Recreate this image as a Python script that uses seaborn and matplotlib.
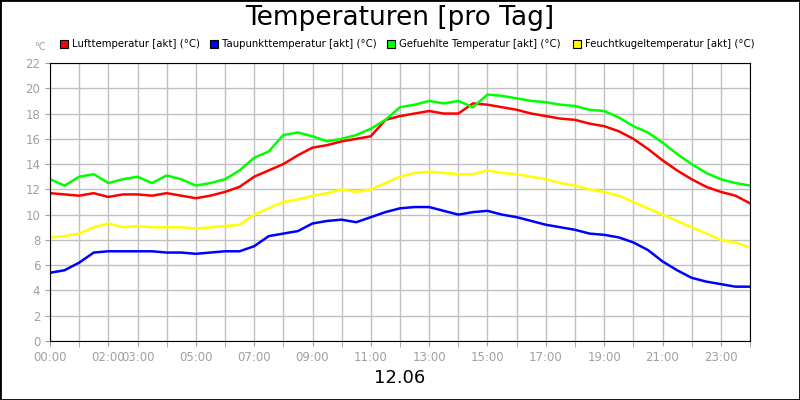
import numpy as np
import pandas as pd
import matplotlib
matplotlib.use("Agg")
import matplotlib.pyplot as plt
import seaborn as sns

hours = [i * 0.5 for i in range(49)]
luft = [11.7, 11.6, 11.5, 11.7, 11.4, 11.6, 11.6, 11.5, 11.7, 11.5, 11.3, 11.5, 11.8, 12.2, 13.0, 13.5, 14.0, 14.7, 15.3, 15.5, 15.8, 16.0, 16.2, 17.5, 17.8, 18.0, 18.2, 18.0, 18.0, 18.8, 18.7, 18.5, 18.3, 18.0, 17.8, 17.6, 17.5, 17.2, 17.0, 16.6, 16.0, 15.2, 14.3, 13.5, 12.8, 12.2, 11.8, 11.5, 10.9]
taupunkt = [5.4, 5.6, 6.2, 7.0, 7.1, 7.1, 7.1, 7.1, 7.0, 7.0, 6.9, 7.0, 7.1, 7.1, 7.5, 8.3, 8.5, 8.7, 9.3, 9.5, 9.6, 9.4, 9.8, 10.2, 10.5, 10.6, 10.6, 10.3, 10.0, 10.2, 10.3, 10.0, 9.8, 9.5, 9.2, 9.0, 8.8, 8.5, 8.4, 8.2, 7.8, 7.2, 6.3, 5.6, 5.0, 4.7, 4.5, 4.3, 4.3]
gefuehlt = [12.8, 12.3, 13.0, 13.2, 12.5, 12.8, 13.0, 12.5, 13.1, 12.8, 12.3, 12.5, 12.8, 13.5, 14.5, 15.0, 16.3, 16.5, 16.2, 15.8, 16.0, 16.3, 16.8, 17.5, 18.5, 18.7, 19.0, 18.8, 19.0, 18.5, 19.5, 19.4, 19.2, 19.0, 18.9, 18.7, 18.6, 18.3, 18.2, 17.7, 17.0, 16.5, 15.7, 14.8, 14.0, 13.3, 12.8, 12.5, 12.3]
feucht = [8.2, 8.3, 8.5, 9.0, 9.3, 9.0, 9.1, 9.0, 9.0, 9.0, 8.9, 9.0, 9.1, 9.2, 10.0, 10.5, 11.0, 11.2, 11.5, 11.7, 12.0, 11.8, 12.0, 12.5, 13.0, 13.3, 13.4, 13.3, 13.2, 13.2, 13.5, 13.3, 13.2, 13.0, 12.8, 12.5, 12.3, 12.0, 11.8, 11.5, 11.0, 10.5, 10.0, 9.5, 9.0, 8.5, 8.0, 7.8, 7.4]
tick_hours = [0, 2, 3, 5, 7, 9, 11, 13, 15, 17, 19, 21, 23]
tick_labels = [f"{h:02d}:00" for h in tick_hours]
names = ["Lufttemperatur [akt] (°C)", "Taupunkttemperatur [akt] (°C)",
         "Gefuehlte Temperatur [akt] (°C)", "Feuchtkugeltemperatur [akt] (°C)"]
colors = ["#ff0000", "#0000ff", "#00ff00", "#ffff00"]

df = pd.DataFrame({"h": hours, names[0]: luft, names[1]: taupunkt,
                   names[2]: gefuehlt, names[3]: feucht})
long = df.melt(id_vars="h", var_name="serie", value_name="t")

fig = plt.figure(figsize=(8, 4), dpi=100)
ax = fig.add_axes([50/800, 1-341/400, 700/800, 278/400])
sns.lineplot(data=long, x="h", y="t", hue="serie", hue_order=names,
             palette=colors, linewidth=1.8, ax=ax, legend=False)
ax.set_xlim(0, 24)
ax.set_ylim(0, 22)
ax.set_yticks(range(0, 23, 2))
ax.set_xticks(range(25), minor=True)
ax.set_xticks(tick_hours)
ax.set_xticklabels(tick_labels)
ax.grid(True, which="both", color="#c0c0c0", linewidth=1)
ax.tick_params(colors="#a0a0a0", labelsize=8.5, labelcolor="#a0a0a0")
ax.tick_params(which="minor", length=4, color="#a0a0a0")
for s in ax.spines.values():
    s.set_color("black")
ax.set_xlabel("")
ax.set_ylabel("")
fig.text(40/800, 1-47/400, "°C", color="#a0a0a0", fontsize=7, ha="center", va="center")
fig.text(0.5, 1-18/400, "Temperaturen [pro Tag]", fontsize=19, ha="center", va="center")
fig.text(0.5, 1-378/400, "12.06", fontsize=13, ha="center", va="center")
xs = [60, 210, 387, 573]
for x, n, c in zip(xs, names, colors):
    fig.patches.append(plt.Rectangle((x/800, 1-48/400), 8/800, 8/400, transform=fig.transFigure,
                                     facecolor=c, edgecolor="black", linewidth=0.8))
    fig.text((x+12)/800, 1-44/400, n, fontsize=7.3, va="center")
fig.patches.append(plt.Rectangle((0, 0), 1, 1, transform=fig.transFigure, fill=False,
                                 edgecolor="black", linewidth=2))
fig.savefig("out.png", dpi=100)
